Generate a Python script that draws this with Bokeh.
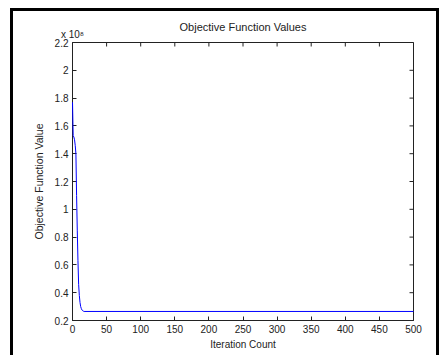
from bokeh.plotting import figure
from bokeh.models import Range1d, FixedTicker, LinearAxis
from bokeh.embed import file_html
from bokeh.resources import INLINE
import math

# data (values in units of 1e8)
iterations = [0, 1, 2, 3, 4, 5, 6, 7, 8, 9, 10, 11, 12, 13, 14, 15, 16, 17, 500]
objective = [1.77, 1.53, 1.52, 1.50, 1.46, 1.40, 1.10, 0.85, 0.63, 0.46, 0.38,
             0.33, 0.30, 0.285, 0.275, 0.27, 0.267, 0.265, 0.265]

x_ticks = [0, 50, 100, 150, 200, 250, 300, 350, 400, 450, 500]
y_ticks = [0.2, 0.4, 0.6, 0.8, 1.0, 1.2, 1.4, 1.6, 1.8, 2.0, 2.2]
y_tick_labels = ["0.2", "0.4", "0.6", "0.8", "1", "1.2", "1.4", "1.6", "1.8", "2", "2.2"]
exponent_label = "x 10⁸"

FONT = "Liberation Sans"
AX = "#222222"
TXT = "#222222"

p = figure(width=429, height=347, output_backend="svg", toolbar_location=None,
           x_range=Range1d(0, 500), y_range=Range1d(0.2, 2.2),
           min_border_left=59, min_border_right=29, min_border_top=31, min_border_bottom=38)
p.styles = {"margin-left": "10px", "margin-top": "8px",
            "border-top": "3px solid #000", "border-left": "3px solid #000",
            "border-right": "3px solid #000"}
p.grid.visible = False
p.outline_line_color = AX
p.outline_line_width = 1
p.background_fill_color = None
p.border_fill_color = None

curve = p.line(iterations, objective, line_color="#0000ff", line_width=1)
curve.level = "overlay"

# inward ticks on the top and right edges of the box
p.scatter(x_ticks, [y_ticks[-1]] * len(x_ticks), marker="dash", size=8,
          angle=math.pi / 2, line_color=AX, line_width=1)
p.scatter([x_ticks[-1]] * len(y_ticks), y_ticks, marker="dash", size=8,
          line_color=AX, line_width=1)


def style(ax):
    ax.axis_line_color = AX
    ax.major_tick_line_color = AX
    ax.major_tick_in = 4
    ax.major_tick_out = 0
    ax.minor_tick_line_color = None
    ax.major_label_text_font = FONT
    ax.major_label_text_font_size = "10px"
    ax.major_label_text_color = TXT
    ax.axis_label_text_font = FONT
    ax.axis_label_text_font_style = "normal"
    ax.axis_label_text_color = TXT


xa = p.xaxis[0]
xa.ticker = FixedTicker(ticks=x_ticks)
style(xa)
xa.axis_label = "Iteration Count"
xa.axis_label_text_font_size = "10px"
xa.major_label_standoff = 4
xa.axis_label_standoff = 3

ya = p.yaxis[0]
ya.ticker = FixedTicker(ticks=y_ticks)
style(ya)
ya.major_label_overrides = {t: s for t, s in zip(y_ticks, y_tick_labels)}
ya.axis_label = "Objective Function Value"
ya.axis_label_text_font_size = "10.5px"
ya.major_label_standoff = 4
ya.axis_label_standoff = 7

# exponent marker above the top-left corner of the box
top = LinearAxis(ticker=FixedTicker(ticks=[x_ticks[0]]))
style(top)
top.axis_line_color = None
top.major_tick_line_color = None
top.major_label_overrides = {x_ticks[0]: exponent_label}
top.major_label_text_align = "left"
top.major_label_text_font_size = "10px"
top.major_label_standoff = 3
p.add_layout(top, "above")

p.title.text = "Objective Function Values"
p.title.align = "center"
p.title.text_font = FONT
p.title.text_font_size = "11px"
p.title.text_font_style = "normal"
p.title.text_color = TXT
p.title.standoff = -14

open("out.html", "w").write(file_html(p, INLINE))
